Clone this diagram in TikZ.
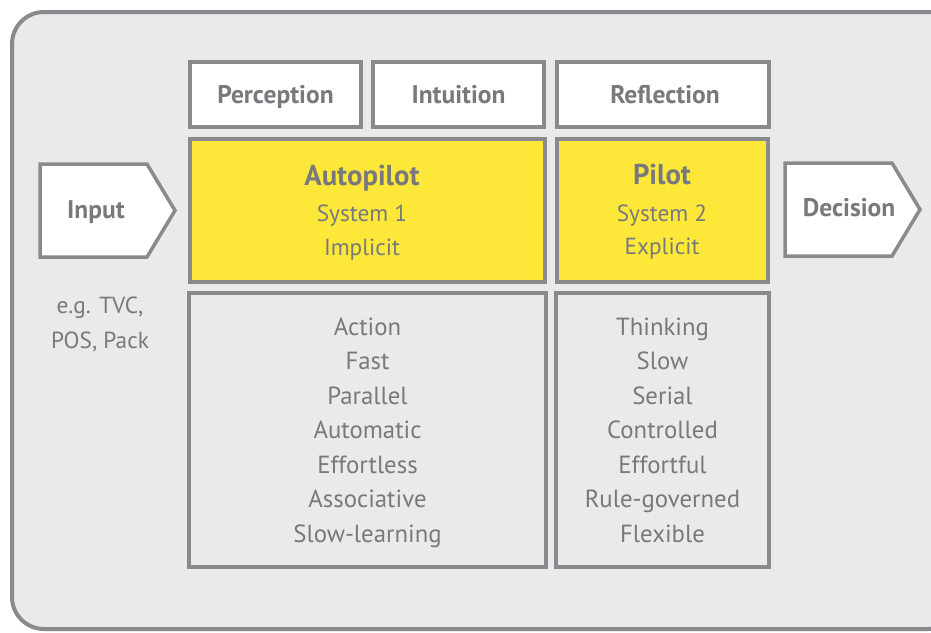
\documentclass[tikz,border=0pt]{standalone}
\usepackage{fontspec}
\setmainfont{PT Sans}
\definecolor{bgc}{HTML}{E9EAEA}
\definecolor{linec}{HTML}{898A8D}
\definecolor{txtc}{HTML}{77797C}
\definecolor{yel}{HTML}{FDE83A}
\begin{document}
\begin{tikzpicture}[x=1pt,y=-1pt,
  box/.style={draw=linec,line width=3.5pt,rectangle,inner sep=0pt},
  lbl/.style={text=txtc,font=\bfseries\fontsize{25.5}{29}\selectfont,anchor=base,inner sep=0pt},
  ttl/.style={text=txtc,font=\bfseries\fontsize{28.7}{32}\selectfont,anchor=base,inner sep=0pt},
  sub/.style={text=txtc,font=\fontsize{23.3}{27}\selectfont,anchor=base,inner sep=0pt},
  itm/.style={text=txtc,font=\fontsize{24.8}{28}\selectfont,anchor=base,inner sep=0pt},
  arrowbox/.style={draw=linec,line width=3.5pt,fill=white,line join=miter}]
\useasboundingbox (0,0) rectangle (931,632);
\fill[white] (0,0) rectangle (931,632);
\draw[draw=linec,fill=bgc,line width=4pt,rounded corners=32pt] (12,12) rectangle (960,629);
% top boxes
\node[box,fill=white,minimum width=171pt,minimum height=65pt] (perc) at (275.5,94.5) {};
\node[box,fill=white,minimum width=171pt,minimum height=65pt] (intu) at (458.5,94.5) {};
\node[box,fill=white,minimum width=212pt,minimum height=65pt] (refl) at (663,94.5) {};
\node[lbl] (percT) at (275.5,103) {Perception};
\node[lbl] (intuT) at (458.5,103) {Intuition};
\node[lbl] (reflT) at (665,103) {Reflection};
% yellow boxes
\node[box,fill=yel,minimum width=355pt,minimum height=143pt] (auto) at (367.5,210.5) {};
\node[box,fill=yel,minimum width=211pt,minimum height=143pt] (pilot) at (662.5,210.5) {};
\node[ttl] (autoT) at (362,185) {Autopilot};
\node[sub] (autoS) at (362,221) {System 1};
\node[sub] (autoI) at (362,255) {Implicit};
\node[ttl] (pilotT) at (662,184) {Pilot};
\node[sub] (pilotS) at (662,221) {System 2};
\node[sub] (pilotE) at (662,254) {Explicit};
% lower boxes
\node[box,minimum width=357pt,minimum height=274pt] (autoL) at (367.5,430) {};
\node[box,minimum width=213pt,minimum height=274pt] (pilotL) at (662.5,430) {};
\foreach \t [count=\i from 0] in {Action,Fast,Parallel,Automatic,Effortless,Associative,Slow-learning}
  \node[itm] (a\i) at (367.5,335+34.5*\i) {\t};
\foreach \t [count=\i from 0] in {Thinking,Slow,Serial,Controlled,Effortful,Rule-governed,Flexible}
  \node[itm] (p\i) at (662.5,335+34.5*\i) {\t};
% input / decision
\draw[arrowbox] (40,164) -- (147,164) -- (175,210.5) -- (147,257) -- (40,257) -- cycle;
\node[lbl] (input) at (96,218) {Input};
\draw[arrowbox] (785,163) -- (892,163) -- (920,209.5) -- (892,256) -- (785,256) -- cycle;
\node[lbl] (decision) at (849,216) {Decision};
\node[sub] (eg1) at (100,313) {e.g. TVC,};
\node[sub] (eg2) at (100,348) {POS, Pack};
\end{tikzpicture}
\end{document}
